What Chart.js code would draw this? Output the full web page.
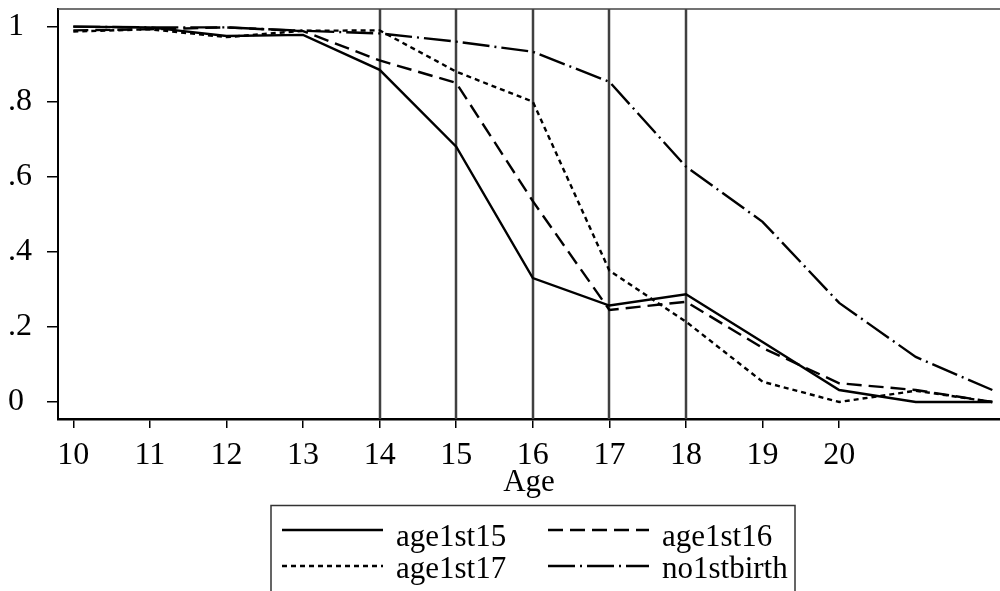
<!DOCTYPE html>
<html><head><meta charset="utf-8">
<script src="https://cdn.jsdelivr.net/npm/chart.js@4/dist/chart.umd.min.js"></script>
<style>html,body{margin:0;padding:0;background:#fff;overflow:hidden}#wrap{width:1000px;height:591px}</style>
</head><body><div id="wrap"><canvas id="c" width="1000" height="591"></canvas></div>
<script>
const ages = [10, 11, 12, 13, 14, 15, 16, 17, 18, 19, 20, 21, 22];
const age1st15 = [1.0, 0.998, 0.975, 0.978, 0.885, 0.68, 0.33, 0.257, 0.287, 0.16, 0.032, 0.0, 0.0];
const age1st16 = [0.99, 0.993, 0.998, 0.988, 0.91, 0.85, 0.535, 0.245, 0.267, 0.144, 0.05, 0.032, 0.0];
const age1st17 = [0.987, 0.993, 0.972, 0.989, 0.99, 0.88, 0.80, 0.35, 0.214, 0.054, 0.0, 0.03, 0.0];
const no1stbirth = [1.0, 0.998, 0.998, 0.989, 0.982, 0.96, 0.933, 0.853, 0.627, 0.48, 0.264, 0.12, 0.032];
const seriesNames = ['age1st15', 'age1st16', 'age1st17', 'no1stbirth'];
const xTickValues = [10, 11, 12, 13, 14, 15, 16, 17, 18, 19, 20];
const yTickValues = [0, 0.2, 0.4, 0.6, 0.8, 1];
const yTickLabels = ['0', '.2', '.4', '.6', '.8', '1'];
const markerAges = [14, 15, 16, 17, 18];
const xTitle = 'Age';

const FONT = '"Liberation Serif", "Times New Roman", serif';
const dashes = [[], [15, 7], [5, 4], [27, 5, 2, 5]];
const seriesValues = [age1st15, age1st16, age1st17, no1stbirth];

const datasets = seriesNames.map((name, k) => ({
  label: name,
  data: ages.map((a, i) => ({x: a, y: seriesValues[k][i]})),
  borderColor: '#000',
  borderWidth: 2.4,
  borderDash: dashes[k],
  pointRadius: 0,
  tension: 0,
  fill: false
}));

const framePlugin = {
  id: 'frame',
  beforeDatasetsDraw(chart) {
    const {ctx, chartArea: a, scales: {x}} = chart;
    ctx.save();
    ctx.strokeStyle = '#404040';
    ctx.lineWidth = 2.5;
    markerAges.forEach(v => {
      const px = Math.round(x.getPixelForValue(v));
      ctx.beginPath();
      ctx.moveTo(px, a.top);
      ctx.lineTo(px, a.bottom);
      ctx.stroke();
    });
    ctx.strokeStyle = '#444';
    ctx.lineWidth = 1.5;
    ctx.beginPath();
    ctx.moveTo(a.left, a.top);
    ctx.lineTo(a.right, a.top);
    ctx.stroke();
    ctx.restore();
  }
};

const legendPlugin = {
  id: 'stataLegend',
  afterDraw(chart) {
    const {ctx} = chart;
    ctx.save();
    ctx.strokeStyle = '#333';
    ctx.lineWidth = 1.5;
    ctx.strokeRect(271, 505.5, 524, 120);
    const colLine = [282, 548];
    const colText = [396, 662];
    const rowLine = [530, 566];
    const rowBase = [546, 578];
    ctx.font = '31px ' + FONT;
    ctx.fillStyle = '#000';
    ctx.textBaseline = 'alphabetic';
    ctx.textAlign = 'left';
    chart.data.datasets.forEach((ds, i) => {
      const c = i % 2, r = Math.floor(i / 2);
      ctx.beginPath();
      ctx.setLineDash(ds.borderDash);
      ctx.lineWidth = ds.borderWidth;
      ctx.strokeStyle = ds.borderColor;
      ctx.moveTo(colLine[c], rowLine[r]);
      ctx.lineTo(colLine[c] + 101, rowLine[r]);
      ctx.stroke();
      ctx.setLineDash([]);
      ctx.fillText(ds.label, colText[c], rowBase[r]);
    });
    ctx.restore();
  }
};

new Chart(document.getElementById('c'), {
  type: 'line',
  data: {datasets},
  plugins: [framePlugin, legendPlugin],
  options: {
    responsive: false,
    animation: false,
    devicePixelRatio: 1,
    layout: {padding: {left: 8, top: 9, right: 0, bottom: 0}},
    plugins: {legend: {display: false}, tooltip: {enabled: false}, title: {display: false}},
    scales: {
      x: {
        type: 'linear',
        min: 9.8,
        max: 22.1,
        afterBuildTicks: s => { s.ticks = xTickValues.map(v => ({value: v})); },
        afterFit: s => { s.height = 172; s.paddingLeft = 0; s.paddingRight = 0; },
        ticks: {font: {family: FONT, size: 32}, color: '#000', padding: 8, maxRotation: 0, autoSkip: false,
                callback: v => String(v)},
        grid: {drawOnChartArea: false, drawTicks: true, tickLength: 9, color: '#000', lineWidth: 1.5},
        border: {display: true, color: '#000', width: 2.5},
        title: {display: true, text: xTitle, font: {family: FONT, size: 31}, color: '#000', padding: {top: 0, bottom: 90}}
      },
      y: {
        type: 'linear',
        min: -0.0453,
        max: 1.047,
        afterBuildTicks: s => { s.ticks = yTickValues.map(v => ({value: v})); },
        afterFit: s => { s.width = 50; s.paddingTop = 0; s.paddingBottom = 0; },
        ticks: {font: {family: FONT, size: 32}, color: '#000', crossAlign: 'far', autoSkip: false,
                callback: v => yTickLabels[yTickValues.findIndex(t => Math.abs(t - v) < 1e-9)]},
        grid: {drawOnChartArea: false, drawTicks: true, tickLength: 11, color: '#000', lineWidth: 1.5},
        border: {display: true, color: '#000', width: 2}
      }
    }
  }
});
</script>
</body></html>
